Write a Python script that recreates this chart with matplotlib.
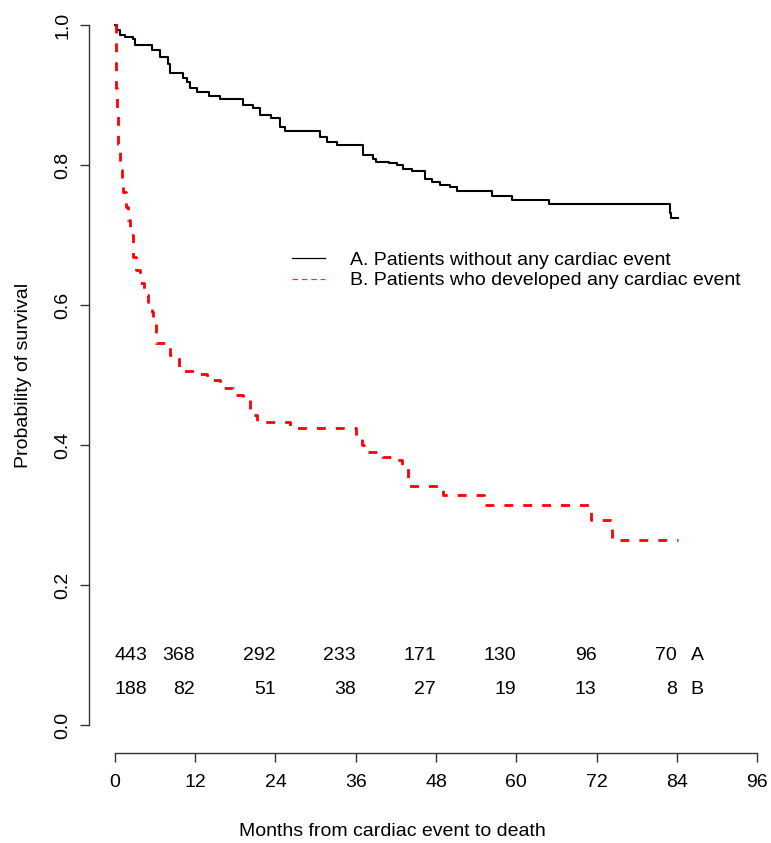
import matplotlib
matplotlib.use("Agg")
import matplotlib.pyplot as plt
from matplotlib.lines import Line2D

plt.rcParams['font.family'] = ['Liberation Sans', 'DejaVu Sans']
plt.rcParams['font.size'] = 14

# Kaplan-Meier steps, group A (no cardiac event)
times_a = [0, 0.3, 0.75, 1.5, 2.7, 3.0, 5.5, 6.7, 8.0, 8.2, 10.2, 10.7, 11.2, 12.2,
           14.0, 15.7, 17.7, 19.2, 20.7, 21.7, 23.4, 24.7, 25.4, 30.7, 31.7, 33.2,
           37.1, 38.6, 39.1, 41.0, 42.1, 43.1, 44.4, 46.4, 47.4, 48.6, 50.1, 51.1,
           56.3, 59.3, 64.9, 83.0, 83.2, 84.2]
surv_a = [1.0, 0.993, 0.986, 0.983, 0.98, 0.971, 0.964, 0.955, 0.945, 0.932, 0.925, 0.918, 0.91, 0.905,
          0.898, 0.895, 0.894, 0.886, 0.881, 0.871, 0.867, 0.855, 0.848, 0.840, 0.833, 0.829,
          0.814, 0.809, 0.805, 0.803, 0.800, 0.795, 0.791, 0.780, 0.776, 0.771, 0.768, 0.763,
          0.756, 0.750, 0.744, 0.731, 0.724, 0.724]

# group B (developed a cardiac event)
times_b = [0, 0.1, 0.2, 0.35, 0.5, 0.75, 1.0, 1.25, 1.6, 2.0, 2.3, 2.7, 3.2, 3.7, 4.3,
           5.0, 5.5, 5.7, 6.2, 8.3, 9.6, 12.2, 13.7, 15.7, 17.6, 19.2, 20.2, 21.2,
           26.2, 36.1, 37.0, 37.6, 39.9, 41.6, 42.9, 43.8, 49.0, 55.2, 71.2, 74.3, 84.2]
surv_b = [1.0, 0.95, 0.91, 0.87, 0.83, 0.793, 0.775, 0.762, 0.74, 0.721, 0.70, 0.669, 0.65, 0.631, 0.615,
          0.605, 0.59, 0.579, 0.546, 0.528, 0.506, 0.501, 0.493, 0.482, 0.472, 0.464, 0.443, 0.433,
          0.425, 0.41, 0.40, 0.39, 0.383, 0.379, 0.368, 0.341, 0.329, 0.314, 0.293, 0.265, 0.265]

# numbers at risk
risk_times = [0, 12, 24, 36, 48, 60, 72, 84]
risk_a = [443, 368, 292, 233, 171, 130, 96, 70]
risk_b = [188, 82, 51, 38, 27, 19, 13, 8]

labels = ['A. Patients without any cardiac event',
          'B. Patients who developed any cardiac event']

fig = plt.figure(figsize=(7.71, 8.43), dpi=100)
ax = fig.add_axes([89.3 / 771, 90 / 843, 693.4 / 771, 756 / 843])

ax.step(times_a, surv_a, where='post', color='black', lw=1.5)
ax.step(times_b, surv_b, where='post', color='#ff0000', lw=2.0, linestyle=(0, (3.2, 3.6)))

# risk table
for i, (t, na, nb) in enumerate(zip(risk_times, risk_a, risk_b)):
    ha = 'left' if i == 0 else 'right'
    ax.text(t, 0.1, str(na), ha=ha, va='center')
    ax.text(t, 0.05, str(nb), ha=ha, va='center')
ax.text(86.1, 0.1, 'A', ha='left', va='center')
ax.text(86.1, 0.05, 'B', ha='left', va='center')

handles = [Line2D([], [], color='black', lw=0.9),
           Line2D([], [], color='#ff3030', lw=0.9, linestyle=(0, (4.5, 3.0)))]
ax.legend(handles, labels, loc='center left', bbox_to_anchor=(292 / 771, 1 - 270.5 / 843),
          bbox_transform=fig.transFigure, frameon=False, borderpad=0, borderaxespad=0,
          handlelength=1.7, handletextpad=1.29, labelspacing=0.14, fontsize=14)

ax.set_xlim(-3.84, 99.84)
ax.set_ylim(-0.04, 1.04)
ax.set_xticks(range(0, 97, 12))
ax.set_yticks([0.0, 0.2, 0.4, 0.6, 0.8, 1.0])
ax.set_yticklabels(['0.0', '0.2', '0.4', '0.6', '0.8', '1.0'], rotation=90, va='center')

for s in ['top', 'right']:
    ax.spines[s].set_visible(False)
ax.spines['left'].set_bounds(0, 1)
ax.spines['bottom'].set_bounds(0, 96)
for s in ['left', 'bottom']:
    ax.spines[s].set_color('#333333')
    ax.spines[s].set_linewidth(1.0)
ax.tick_params(direction='out', length=6.5, width=1.0, color='#333333')
ax.tick_params(axis='x', pad=8.5)
ax.tick_params(axis='y', pad=6.5)

ax.set_xlabel('Months from cardiac event to death')
ax.xaxis.set_label_coords(0.4366, -0.0926)
ax.set_ylabel('Probability of survival')
ax.yaxis.set_label_coords(-0.0826, 0.5)

fig.savefig('out.png', dpi=100)
